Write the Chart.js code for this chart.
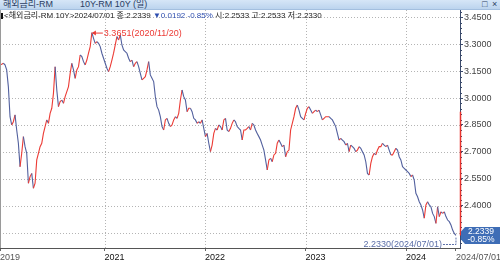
<!DOCTYPE html>
<html lang="ko">
<head>
<meta charset="utf-8">
<script src="https://cdn.jsdelivr.net/npm/chart.js@4.4.1/dist/chart.umd.min.js"></script>
<style>
  html, body { margin: 0; padding: 0; background: #fff; }
  body { width: 500px; height: 262px; position: relative; overflow: hidden;
         font-family: "Liberation Sans", "Noto Sans CJK KR", sans-serif; }
  #titleBar { position: absolute; left: 0; top: 0; width: 500px; height: 10px;
              background: linear-gradient(#d6e6f7, #bcd4ee); border-bottom: 1px solid #a3bfdf;
              box-sizing: border-box; font-size: 9px; line-height: 9px; color: #2b3d63; }
  #titleBar span { position: absolute; top: 0; }
  #info { position: absolute; left: 1px; top: 11px; font-size: 8px; line-height: 9px;
          color: #222; white-space: nowrap; z-index: 2; }
  #info .mk { display: inline-block; width: 2px; height: 6px; background: #111; margin-right: 1px; vertical-align: -1px; }
  #info .dn { color: #2f4fb0; }
  #wrap { position: absolute; left: 0; top: 10px; width: 500px; height: 252px; }
</style>
</head>
<body>
<div id="titleBar">
  <span style="left:3px">해외금리-RM</span>
  <span style="left:80px">10Y-RM 10Y (일)</span>
  <span style="left:482px">□</span>
  <span style="left:492px">×</span>
</div>
<div id="info"><span class="mk"></span>&lt;해외금리-RM 10Y&gt;2024/07/01 종:2.2339 <span class="dn">▼0.0192 -0.85%</span> 시:2.2533 고:2.2533 저:2.2330</div>
<div id="wrap"><canvas id="chart" width="500" height="252"></canvas></div>

<script>
// RM 10Y at roughly 6-day spacing
const startDate = '2019-12-17';
const endDate = '2024-07-01';
const closes = [
  3.185, 3.188, 3.194, 3.185, 3.157, 3.064, 2.896, 2.850, 2.868, 2.906,
  2.822, 2.748, 2.617, 2.692, 2.785, 2.729, 2.692, 2.525, 2.562, 2.580,
  2.497, 2.525, 2.655, 2.692, 2.729, 2.748, 2.803, 2.841, 2.878, 2.859,
  2.915, 2.943, 3.026, 3.175, 3.045, 2.952, 2.980, 2.989, 2.971, 3.008,
  3.036, 3.064, 3.138, 3.194, 3.157, 3.110, 3.157, 3.175, 3.240, 3.231,
  3.203, 3.185, 3.212, 3.250, 3.287, 3.3651, 3.333, 3.305,
  3.315, 3.305, 3.287, 3.250, 3.222, 3.194, 3.166, 3.147, 3.175, 3.212,
  3.250, 3.296, 3.343, 3.324, 3.352, 3.296, 3.268, 3.259, 3.250, 3.222,
  3.203, 3.212, 3.175, 3.194, 3.203, 3.175, 3.138, 3.101, 3.110, 3.119,
  3.157, 3.203, 3.129, 3.110, 3.092, 3.008, 2.952, 2.933, 2.896, 2.841,
  2.822, 2.878, 2.887, 2.859, 2.841, 2.850, 2.878, 2.896, 2.887, 2.915,
  2.989, 3.045, 3.008, 2.989,
  2.924, 2.943, 2.943, 2.924, 2.887, 2.878, 2.859, 2.868, 2.859, 2.878,
  2.831, 2.785, 2.803, 2.748, 2.701, 2.738, 2.803, 2.831, 2.822, 2.850,
  2.841, 2.822, 2.878, 2.887, 2.822, 2.813, 2.831, 2.859, 2.878, 2.868,
  2.841, 2.831, 2.822, 2.766, 2.822, 2.822, 2.831, 2.841, 2.822, 2.859,
  2.850, 2.822, 2.803, 2.785, 2.766, 2.738, 2.710, 2.655, 2.599, 2.655,
  2.664, 2.645, 2.683, 2.692,
  2.748, 2.766, 2.748, 2.729, 2.738, 2.673, 2.701, 2.710, 2.822, 2.859,
  2.896, 2.943, 2.961, 2.933, 2.896, 2.887, 2.878, 2.915, 2.943, 2.952,
  2.933, 2.915, 2.924, 2.933, 2.924, 2.933, 2.906, 2.878, 2.887, 2.896,
  2.896, 2.896, 2.887, 2.878, 2.859, 2.841, 2.803, 2.766, 2.775, 2.766,
  2.757, 2.738, 2.748, 2.701, 2.738, 2.729, 2.720, 2.701, 2.710, 2.729,
  2.720, 2.701, 2.683, 2.645,
  2.580, 2.571, 2.636, 2.673, 2.692, 2.683, 2.710, 2.729, 2.729, 2.748,
  2.738, 2.729, 2.738, 2.710, 2.683, 2.683, 2.701, 2.720, 2.710, 2.673,
  2.655, 2.617, 2.608, 2.599, 2.590, 2.580, 2.562, 2.571, 2.543, 2.469,
  2.450, 2.422, 2.404, 2.376, 2.330, 2.404, 2.422, 2.404, 2.394, 2.357,
  2.339, 2.301, 2.394, 2.339, 2.366, 2.357, 2.366, 2.339, 2.320, 2.311,
  2.292, 2.264, 2.245, 2.2339
];

const yTicks = [2.25, 2.40, 2.55, 2.70, 2.85, 3.00, 3.15, 3.30, 3.45];
const yearTicks = [2021, 2022, 2023, 2024];
const firstLabel = '2019';
const lastLabel = '2024/07/01';
const peakDate = '2020/11/20';
const lastLow = 2.2330;
const lastChange = '-0.85%';
const rangeHigh = 2.924;

function toYear(s) {
  const d = new Date(s + 'T00:00:00Z');
  const y = d.getUTCFullYear();
  const a = Date.UTC(y, 0, 1), b = Date.UTC(y + 1, 0, 1);
  return y + (d - a) / (b - a);
}

const t0 = toYear(startDate);
const t1 = toYear(endDate);
const step = (t1 - t0) / (closes.length - 1);
const points = closes.map((v, i) => ({ x: t0 + i * step, y: v }));

const RED = '#ec3b35';
const BLUE = '#52609e';
const GRID = '#b4b4b4';

// dotted grid drawn by hand so it lands on whole pixels
const dottedGrid = {
  id: 'dottedGrid',
  beforeDatasetsDraw(chart) {
    const { ctx, chartArea: a, scales: { x, y } } = chart;
    ctx.save();
    ctx.strokeStyle = GRID;
    ctx.lineWidth = 1;
    ctx.setLineDash([1, 2]);
    ctx.beginPath();
    yTicks.forEach(v => {
      const py = Math.round(y.getPixelForValue(v)) + 0.5;
      ctx.moveTo(a.left, py);
      ctx.lineTo(a.right, py);
    });
    yearTicks.forEach(v => {
      const px = Math.round(x.getPixelForValue(v)) + 0.5;
      ctx.moveTo(px, a.top);
      ctx.lineTo(px, a.bottom);
    });
    ctx.stroke();
    ctx.restore();
  }
};

const overlay = {
  id: 'overlay',
  afterDraw(chart) {
    const { ctx, chartArea: a, scales: { x, y } } = chart;
    ctx.save();

    // left frame
    ctx.strokeStyle = '#9a9a9a';
    ctx.lineWidth = 1;
    ctx.beginPath();
    ctx.moveTo(a.left + 0.5, a.top);
    ctx.lineTo(a.left + 0.5, a.bottom);
    ctx.stroke();

    // minor ticks on the value axis
    ctx.strokeStyle = '#3b4a6b';
    ctx.beginPath();
    for (let v = 2.19; v < 3.49; v += 0.03) {
      const py = Math.round(y.getPixelForValue(v)) + 0.5;
      ctx.moveTo(a.right, py);
      ctx.lineTo(a.right + 2, py);
    }
    ctx.stroke();

    const last = closes[closes.length - 1];
    const cy = y.getPixelForValue(last);

    // red range on the axis
    ctx.strokeStyle = '#e8322c';
    ctx.lineWidth = 1.5;
    ctx.beginPath();
    ctx.moveTo(a.right + 0.5, y.getPixelForValue(rangeHigh));
    ctx.lineTo(a.right + 0.5, cy);
    ctx.stroke();

    // peak label
    const iMax = closes.indexOf(Math.max(...closes));
    const mx = x.getPixelForValue(points[iMax].x);
    const my = y.getPixelForValue(closes[iMax]);
    ctx.strokeStyle = RED;
    ctx.fillStyle = RED;
    ctx.lineWidth = 1;
    ctx.beginPath();
    ctx.moveTo(mx + 1, my + 0.5);
    ctx.lineTo(mx + 11, my + 0.5);
    ctx.stroke();
    ctx.beginPath();
    ctx.moveTo(mx, my + 0.5);
    ctx.lineTo(mx + 4, my - 2);
    ctx.lineTo(mx + 4, my + 3);
    ctx.closePath();
    ctx.fill();
    ctx.font = '9px "Liberation Sans", sans-serif';
    ctx.textBaseline = 'middle';
    ctx.textAlign = 'left';
    ctx.fillText(closes[iMax].toFixed(4) + '(' + peakDate + ')', mx + 12, my + 1);

    // last low label
    const lx = x.getPixelForValue(points[points.length - 1].x);
    const ly = y.getPixelForValue(lastLow);
    const ty = Math.round(ly + 8) + 0.5;
    ctx.strokeStyle = '#5c6fa8';
    ctx.fillStyle = '#5c6fa8';
    ctx.setLineDash([2, 1]);
    ctx.beginPath();
    ctx.moveTo(lx - 13, ty);
    ctx.lineTo(lx, ty);
    ctx.lineTo(lx, ly + 2);
    ctx.stroke();
    ctx.setLineDash([]);
    ctx.textAlign = 'right';
    ctx.fillText(lastLow.toFixed(4) + '(' + lastLabel + ')', lx - 14, ty);

    // current value box
    const bl = a.right + 1, br = chart.width;
    ctx.fillStyle = '#3e6db6';
    ctx.beginPath();
    ctx.moveTo(bl, cy - 4);
    ctx.lineTo(bl + 4, cy - 8.5);
    ctx.lineTo(br, cy - 8.5);
    ctx.lineTo(br, cy + 8.5);
    ctx.lineTo(bl + 4, cy + 8.5);
    ctx.lineTo(bl, cy + 4);
    ctx.closePath();
    ctx.fill();
    ctx.fillStyle = '#fff';
    ctx.textAlign = 'center';
    ctx.font = '8.5px "Liberation Sans", sans-serif';
    ctx.fillText(last.toFixed(4), bl + 20, cy - 3.5);
    ctx.fillText(lastChange, bl + 20, cy + 4.5);

    ctx.restore();
  }
};

new Chart(document.getElementById('chart'), {
  type: 'line',
  data: {
    datasets: [{
      data: points,
      borderWidth: 1.1,
      pointRadius: 0,
      tension: 0,
      borderColor: BLUE,
      segment: {
        borderColor: c => (c.p1.parsed.y >= c.p0.parsed.y ? RED : BLUE)
      }
    }]
  },
  options: {
    responsive: false,
    animation: false,
    layout: { padding: 0 },
    plugins: { legend: { display: false }, tooltip: { enabled: false } },
    scales: {
      x: {
        type: 'linear',
        position: 'bottom',
        min: t0,
        max: t1 + 0.04,
        afterBuildTicks: s => {
          s.ticks = [t0, ...yearTicks, t1].map(v => ({ value: v }));
        },
        afterFit: s => {
          s.height = 14;
          s.paddingLeft = 0;
          s.paddingRight = 0;
        },
        ticks: {
          autoSkip: false,
          maxRotation: 0,
          align: 'start',
          padding: 1,
          font: { family: '"Liberation Sans", sans-serif', size: 9 },
          color: c => (yearTicks.includes(c.tick.value) ? '#111' : '#555'),
          callback: v => (v === t0 ? firstLabel : v === t1 ? lastLabel : String(v))
        },
        grid: {
          drawOnChartArea: false,
          tickColor: '#666',
          tickLength: 3
        },
        border: { display: true, color: '#555', width: 1 }
      },
      y: {
        position: 'right',
        min: 2.164,
        max: 3.491,
        afterBuildTicks: s => {
          s.ticks = yTicks.map(v => ({ value: v }));
        },
        afterFit: s => {
          s.width = 40;
          s.paddingTop = 0;
          s.paddingBottom = 0;
        },
        ticks: {
          padding: 1,
          font: { family: '"Liberation Sans", sans-serif', size: 9 },
          color: '#444',
          callback: v => v.toFixed(4)
        },
        grid: {
          drawOnChartArea: false,
          tickColor: '#3b4a6b',
          tickLength: 3
        },
        border: { display: true, color: '#3b4a6b', width: 1 }
      }
    }
  },
  plugins: [dottedGrid, overlay]
});
</script>
</body>
</html>
